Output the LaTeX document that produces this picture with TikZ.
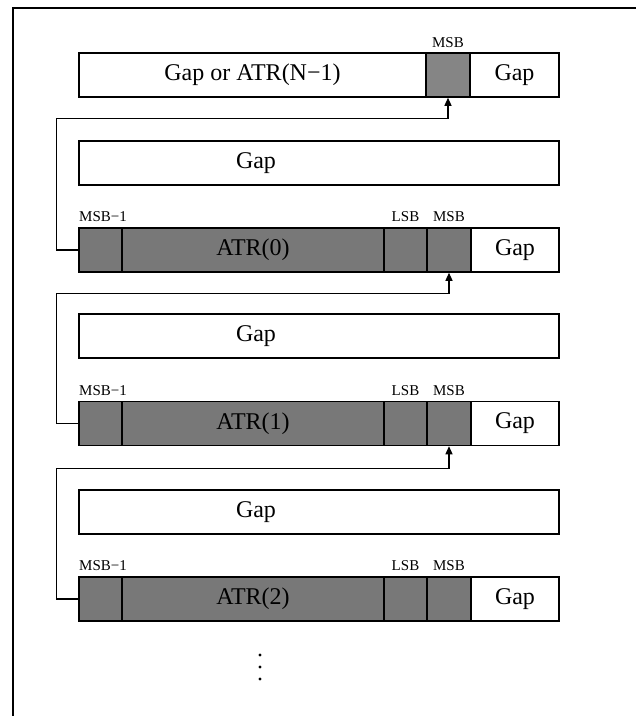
\documentclass[tikz,border=0pt]{standalone}
\usepackage{fontspec}
\setmainfont{Liberation Serif}
\usetikzlibrary{arrows.meta}
\definecolor{cellgray}{gray}{0.47}
\definecolor{msbgray}{gray}{0.52}
\begin{document}
\begin{tikzpicture}[x=1pt,y=-1pt,
  cell/.style={draw, line width=1.5pt, inner sep=0pt, minimum height=44pt,
               font=\fontsize{24}{24}\selectfont},
  shaded/.style={cell, fill=cellgray},
  gapbox/.style={draw, line width=1.5pt, inner sep=0pt, minimum height=44pt, minimum width=480pt},
  big/.style={inner sep=0pt, font=\fontsize{24}{24}\selectfont},
  lbl/.style={inner sep=0pt, font=\fontsize{15}{15}\selectfont},
  conn/.style={line width=1.2pt, -{Triangle[length=8pt,width=7pt]}},
  frame/.style={line width=2pt},
]
\useasboundingbox (0,0) rectangle (636,716);
% outer frame (top and left edges only)
\draw[frame] (636,8) -- (13,8) -- (13,716);

% Row 1
\node[cell, minimum width=347pt] (r1a) at (252.5,75) {Gap or ATR(N−1)};
\node[cell, fill=msbgray, minimum width=44pt] (r1msb) at (448,75) {};
\node[cell, minimum width=89pt] (r1gap) at (514.5,75) {Gap};
\node[lbl] (r1lmsb) at (448,43) {MSB};

% Gap rows
\node[gapbox] (g1) at (319,163) {};
\node[big] (g1t) at (256,163) {Gap};
\node[gapbox] (g2) at (319,336) {};
\node[big] (g2t) at (256,336) {Gap};
\node[gapbox] (g3) at (319,512) {};
\node[big] (g3t) at (256,512) {Gap};

% ATR rows
\foreach \i/\c in {0/250, 1/423.5, 2/599}{
  \node[shaded, minimum width=43pt] (a\i m1) at (100.5,\c) {};
  \node[shaded, minimum width=262pt] (a\i main) at (253,\c) {ATR(\i)};
  \node[shaded, minimum width=43pt] (a\i lsb) at (405.5,\c) {};
  \node[shaded, minimum width=44pt] (a\i msb) at (449,\c) {};
  \node[cell, minimum width=88pt] (a\i gap) at (515,\c) {Gap};
  \node[lbl, anchor=west] (a\i lm1) at (79,\c-33) {MSB−1};
  \node[lbl] (a\i llsb) at (405.5,\c-33) {LSB};
  \node[lbl] (a\i lmsb) at (449,\c-33) {MSB};
}

% connectors
\draw[conn] (a0m1.west) -- ++(-22,0) |- ([yshift=-21pt]r1msb.south) -- (r1msb.south);
\draw[conn] (a1m1.west) -- ++(-22,0) |- ([yshift=-21pt]a0msb.south) -- (a0msb.south);
\draw[conn] (a2m1.west) -- ++(-22,0) |- ([yshift=-22pt]a1msb.south) -- (a1msb.south);

% continuation dots
\fill (260,655) circle (1.6pt) (260,667) circle (1.6pt) (260,679) circle (1.6pt);
\end{tikzpicture}
\end{document}
